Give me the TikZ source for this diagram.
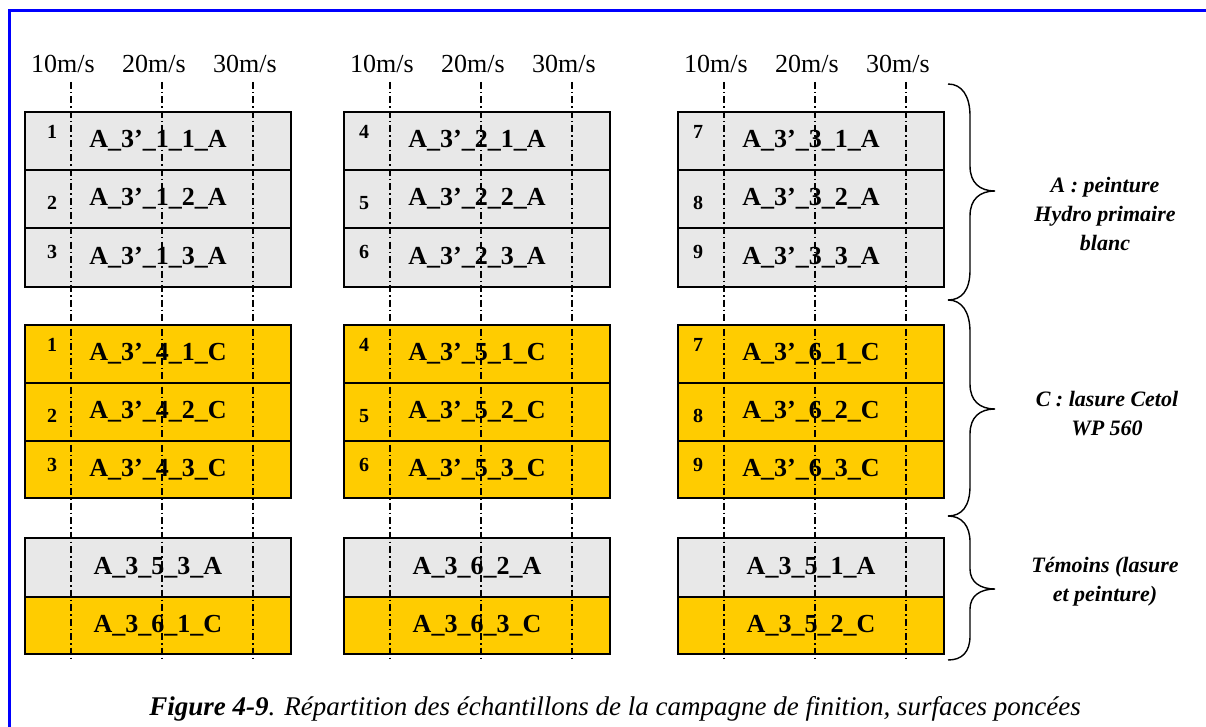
\documentclass[tikz,border=0pt]{standalone}
\usepackage{fontspec}
\setmainfont{Liberation Serif}
\definecolor{peinturegray}{HTML}{E8E8E8}
\definecolor{lasureyellow}{HTML}{FFCC00}
\definecolor{framblue}{HTML}{0000FF}
\begin{document}
\begin{tikzpicture}[x=1pt, y=-1pt,
    sample/.style={draw=black, line width=2.6pt, minimum width=266pt, inner sep=0pt},
    peinture/.style={sample, fill=peinturegray},
    lasure/.style={sample, fill=lasureyellow},
    speedline/.style={line width=1.3pt, dash pattern=on 7pt off 3pt on 1.5pt off 3pt},
    code/.style={font=\fontsize{26}{30}\selectfont\bfseries},
    num/.style={font=\fontsize{20}{22}\selectfont\bfseries, inner sep=0pt},
    speed/.style={font=\fontsize{26}{30}\selectfont, anchor=base, inner sep=0pt},
    legend/.style={font=\fontsize{22}{29}\selectfont\bfseries\itshape, align=center},
    bracepath/.style={line width=1.4pt}]

  \useasboundingbox (0,0) rectangle (1206,727);

  % Frame
  \draw[framblue, line width=3pt] (9.5,727) -- (9.5,10.5) -- (1206,10.5);

  % Sample plates, three groups
  \foreach \L/\nx/\na/\nb/\nc/\ta/\tb [count=\g] in
      {25/27/1/2/3/A\_3\_5\_3\_A/A\_3\_6\_1\_C,
       344/20/4/5/6/A\_3\_6\_2\_A/A\_3\_6\_3\_C,
       678/20/7/8/9/A\_3\_5\_1\_A/A\_3\_5\_2\_C} {
    \pgfmathsetmacro{\cx}{\L+133}
    \pgfmathtruncatemacro{\pa}{\g}
    \pgfmathtruncatemacro{\pc}{\g+3}
    % peinture A
    \node[peinture, minimum height=58pt] (a\g1) at (\cx,141) {};
    \node[peinture, minimum height=58pt] (a\g2) at (\cx,199) {};
    \node[peinture, minimum height=59pt] (a\g3) at (\cx,257.5) {};
    % lasure C
    \node[lasure, minimum height=58pt] (c\g1) at (\cx,354) {};
    \node[lasure, minimum height=58pt] (c\g2) at (\cx,412) {};
    \node[lasure, minimum height=57pt] (c\g3) at (\cx,469.5) {};
    % temoins
    \node[peinture, minimum height=59pt] (t\g1) at (\cx,567.5) {};
    \node[lasure, minimum height=57pt] (t\g2) at (\cx,625.5) {};

    % speeds
    \foreach \dx/\v [count=\k] in {46/10, 137/20, 228/30} {
      \node[speed] (v\g\k) at (\L+\dx-8,73) {\v m/s};
      \draw[speedline] (\L+\dx,82) -- (\L+\dx,662);
    }

    % codes
    \foreach \r in {1,2,3} {
      \node[code] at (a\g\r) {A\_3’\_\pa\_\r\_A};
      \node[code] at (c\g\r) {A\_3’\_\pc\_\r\_C};
    }
    \node[code] at (t\g1) {\ta};
    \node[code] at (t\g2) {\tb};

    % plate numbers
    \foreach \r/\n/\dy in {1/\na/-9, 2/\nb/4, 3/\nc/-5} {
      \node[num] at (\L+\nx, 141+58*\r-58+\dy) {\n};
      \node[num] at (\L+\nx, 354+58*\r-58+\dy) {\n};
    }
  }

  % Braces
  \draw[bracepath] (948,84) .. controls (962,84) and (970,96) .. (970,116)
    -- (970,166) .. controls (970,183) and (980,191) .. (995,191)
    .. controls (980,191) and (970,199) .. (970,216)
    -- (970,270) .. controls (970,290) and (962,300) .. (948,300);
  \draw[bracepath] (948,300) .. controls (962,300) and (970,312) .. (970,332)
    -- (970,384) .. controls (970,401) and (980,409) .. (995,409)
    .. controls (980,409) and (970,417) .. (970,434)
    -- (970,486) .. controls (970,506) and (962,516) .. (948,516);
  \draw[bracepath] (948,516) .. controls (962,516) and (970,526) .. (970,542)
    -- (970,569) .. controls (970,582) and (980,589) .. (995,589)
    .. controls (980,589) and (970,596) .. (970,609)
    -- (970,636) .. controls (970,652) and (962,660) .. (948,660);

  % Brace labels
  \node[legend] (legA) at (1105,214) {A : peinture\\Hydro primaire\\blanc};
  \node[legend] (legC) at (1107,414) {C : lasure Cetol\\WP 560};
  \node[legend] (legT) at (1105,582) {Témoins (lasure\\et peinture)};

  % Caption
  \node[font=\fontsize{27}{30}\selectfont\itshape] (caption) at (615,709)
    {\textbf{Figure 4-9}. Répartition des échantillons de la campagne de finition, surfaces poncées};
\end{tikzpicture}
\end{document}
